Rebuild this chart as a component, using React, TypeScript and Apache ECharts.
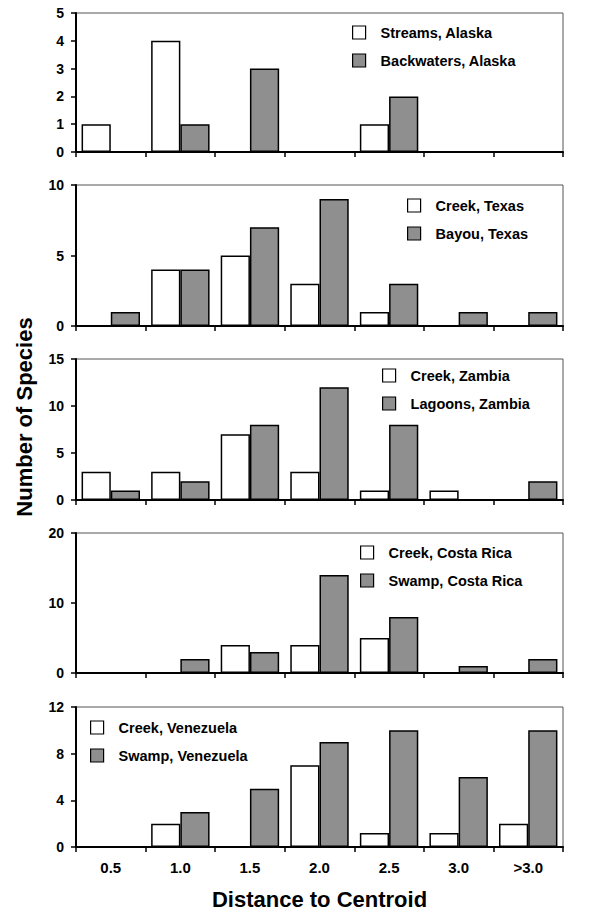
import React, { useEffect, useRef } from "react";
import * as echarts from "echarts";

const categories = ["0.5", "1.0", "1.5", "2.0", "2.5", "3.0", ">3.0"];

const streamsAlaska = [1, 4, 0, 0, 1, 0, 0];
const backwatersAlaska = [0, 1, 3, 0, 2, 0, 0];
const creekTexas = [0, 4, 5, 3, 1, 0, 0];
const bayouTexas = [1, 4, 7, 9, 3, 1, 1];
const creekZambia = [3, 3, 7, 3, 1, 1, 0];
const lagoonsZambia = [1, 2, 8, 12, 8, 0, 2];
const creekCostaRica = [0, 0, 4, 4, 5, 0, 0];
const swampCostaRica = [0, 2, 3, 14, 8, 1, 2];
const creekVenezuela = [0, 2, 0, 7, 1.2, 1.2, 2];
const swampVenezuela = [0, 3, 5, 9, 10, 6, 10];

const panelNames = [
  ["Streams, Alaska", "Backwaters, Alaska"],
  ["Creek, Texas", "Bayou, Texas"],
  ["Creek, Zambia", "Lagoons, Zambia"],
  ["Creek, Costa Rica", "Swamp, Costa Rica"],
  ["Creek, Venezuela", "Swamp, Venezuela"],
];
const panelData = [
  [streamsAlaska, backwatersAlaska],
  [creekTexas, bayouTexas],
  [creekZambia, lagoonsZambia],
  [creekCostaRica, swampCostaRica],
  [creekVenezuela, swampVenezuela],
];
const yMax = [5, 10, 15, 20, 12];
const yInterval = [1, 5, 5, 10, 4];

const xAxisTitle = "Distance to Centroid";
const yAxisTitle = "Number of Species";

const FONT = "'Liberation Sans', Arial, Helvetica, sans-serif";

// layout
const gridTops = [13, 185, 359, 533, 707];
const gridHeights = [139, 141, 141, 140, 144];
const legendPos = [
  { left: 352, top: 25 },
  { left: 407, top: 198 },
  { left: 382, top: 368 },
  { left: 360, top: 545 },
  { left: 90, top: 720 },
];

export default function App() {
  const ref = useRef<HTMLDivElement>(null);
  useEffect(() => {
    if (!ref.current) return;
    const chart = echarts.init(ref.current, null, { renderer: "svg" });
    const grids = gridTops.map((t, i) => ({
      left: 76,
      width: 487,
      top: t,
      height: gridHeights[i],
      show: true,
      borderColor: "#555",
      borderWidth: 1,
      containLabel: false,
    }));
    const xAxes = gridTops.map((_, i) => ({
      type: "category",
      gridIndex: i,
      data: categories,
      boundaryGap: true,
      axisLine: { show: true, lineStyle: { color: "#000", width: 2 } },
      axisTick: { show: true, length: 5, lineStyle: { color: "#000", width: 1.5 } },
      axisLabel: {
        show: i === 4,
        color: "#000",
        fontFamily: FONT,
        fontWeight: "bold",
        fontSize: 15,
        margin: 13,
      },
      name: i === 4 ? xAxisTitle : "",
      nameLocation: "middle",
      nameGap: 41,
      nameTextStyle: {
        color: "#000",
        fontFamily: FONT,
        fontWeight: "bold",
        fontSize: 22,
      },
    }));
    const yAxes = gridTops.map((_, i) => ({
      type: "value",
      gridIndex: i,
      min: 0,
      max: yMax[i],
      interval: yInterval[i],
      splitLine: { show: false },
      axisLine: { show: true, lineStyle: { color: "#000", width: 2 } },
      axisTick: { show: true, length: 5, lineStyle: { color: "#000", width: 1.5 } },
      axisLabel: {
        color: "#000",
        fontFamily: FONT,
        fontWeight: "bold",
        fontSize: 14,
        margin: 12,
      },
    }));
    const series: any[] = [];
    panelData.forEach((pair, i) => {
      pair.forEach((vals, j) => {
        series.push({
          type: "bar",
          name: panelNames[i][j],
          xAxisIndex: i,
          yAxisIndex: i,
          data: vals,
          barGap: "0%",
          barCategoryGap: "16%",
          itemStyle: {
            color: j === 0 ? "#ffffff" : "#8f8f8f",
            borderColor: "#000",
            borderWidth: 1.5,
          },
        });
      });
    });
    const legends = legendPos.map((p, i) => ({
      data: panelNames[i],
      orient: "vertical",
      left: p.left,
      top: p.top,
      padding: 0,
      itemWidth: 13,
      itemHeight: 13,
      itemGap: 13,
      icon: "rect",
      selectedMode: false,
      itemStyle: { borderColor: "#000", borderWidth: 1.2 },
      textStyle: {
        color: "#000",
        fontFamily: FONT,
        fontWeight: "bold",
        fontSize: 14.5,
        padding: [0, 0, 0, 10],
      },
    }));
    chart.setOption({
      animation: false,
      backgroundColor: "#fff",
      grid: grids,
      xAxis: xAxes,
      yAxis: yAxes,
      legend: legends,
      series,
      graphic: [
        {
          type: "text",
          x: 24,
          y: 417,
          rotation: Math.PI / 2,
          style: {
            text: yAxisTitle,
            fill: "#000",
            font: `bold 22px ${FONT}`,
            align: "center",
            verticalAlign: "middle",
          },
        },
      ],
    });
    return () => chart.dispose();
  }, []);
  return (
    <div
      ref={ref}
      style={{ position: "fixed", left: 0, top: 0, width: 599, height: 911, background: "#fff" }}
    />
  );
}
